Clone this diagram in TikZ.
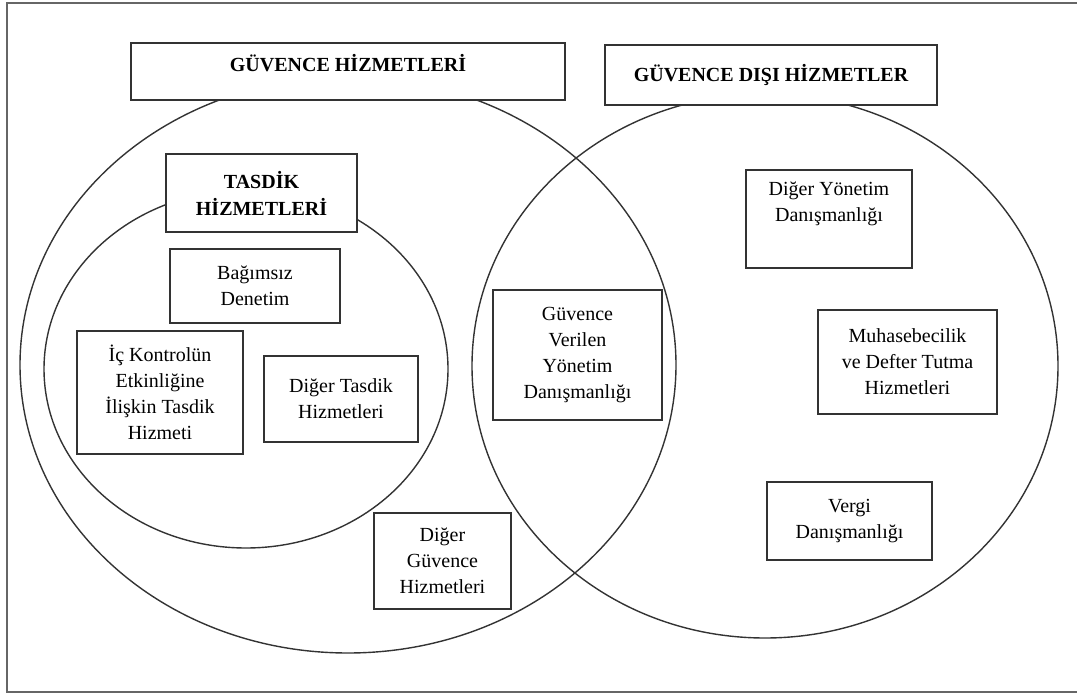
\documentclass[tikz,border=0pt]{standalone}
\usepackage{fontspec}
\setmainfont{Liberation Serif}
\usepackage{tikz}

\begin{document}
\begin{tikzpicture}[
    x=1pt, y=-1pt,
    every node/.style={draw=black!80, line width=1.4pt, fill=white, align=center, inner sep=2pt,
        font=\fontsize{20}{26}\selectfont},
    heading/.style={font=\fontsize{20}{27}\selectfont\bfseries},
    circle line/.style={draw=black!80, line width=1.4pt},
    frame/.style={draw=black!60, line width=1.4pt}
]
\useasboundingbox (0,0) rectangle (1077,695);

% Frame and sets
\draw[frame] (7,3) rectangle (1090,692);
\draw[circle line] (348,365) ellipse (328 and 288);
\draw[circle line] (765,366) ellipse (293 and 272);
\draw[circle line] (246,369) ellipse (202 and 179);

% Nodes
\node[heading, minimum width=434, minimum height=57] (guvence) at (348,71.5) {GÜVENCE HİZMETLERİ\\[-18pt]\strut};
\node[heading, minimum width=332, minimum height=60] (disi) at (771,75) {GÜVENCE DIŞI HİZMETLER};
\node[heading, minimum width=191, minimum height=78] (tasdik) at (261.5,193) {TASDİK\\HİZMETLERİ};

\node[minimum width=170, minimum height=74] (bagimsiz) at (255,286) {Bağımsız\\Denetim};
\node[minimum width=166, minimum height=123] (ickontrol) at (160,392.5) {İç Kontrolün\\Etkinliğine\\İlişkin Tasdik\\Hizmeti};
\node[minimum width=154, minimum height=86] (digertasdik) at (341,399) {Diğer Tasdik\\Hizmetleri};
\node[minimum width=137, minimum height=96] (digerguvence) at (442.5,561) {Diğer\\Güvence\\Hizmetleri};

\node[minimum width=169, minimum height=130] (verilen) at (577.5,355) {Güvence\\Verilen\\Yönetim\\Danışmanlığı};

\node[minimum width=166, minimum height=98] (digeryonetim) at (829,219) {Diğer Yönetim\\Danışmanlığı\\ \strut};
\node[minimum width=179, minimum height=104] (muhasebe) at (907.5,362) {Muhasebecilik\\ve Defter Tutma\\Hizmetleri};
\node[minimum width=165, minimum height=78] (vergi) at (849.5,521) {Vergi\\Danışmanlığı};

\end{tikzpicture}
\end{document}
